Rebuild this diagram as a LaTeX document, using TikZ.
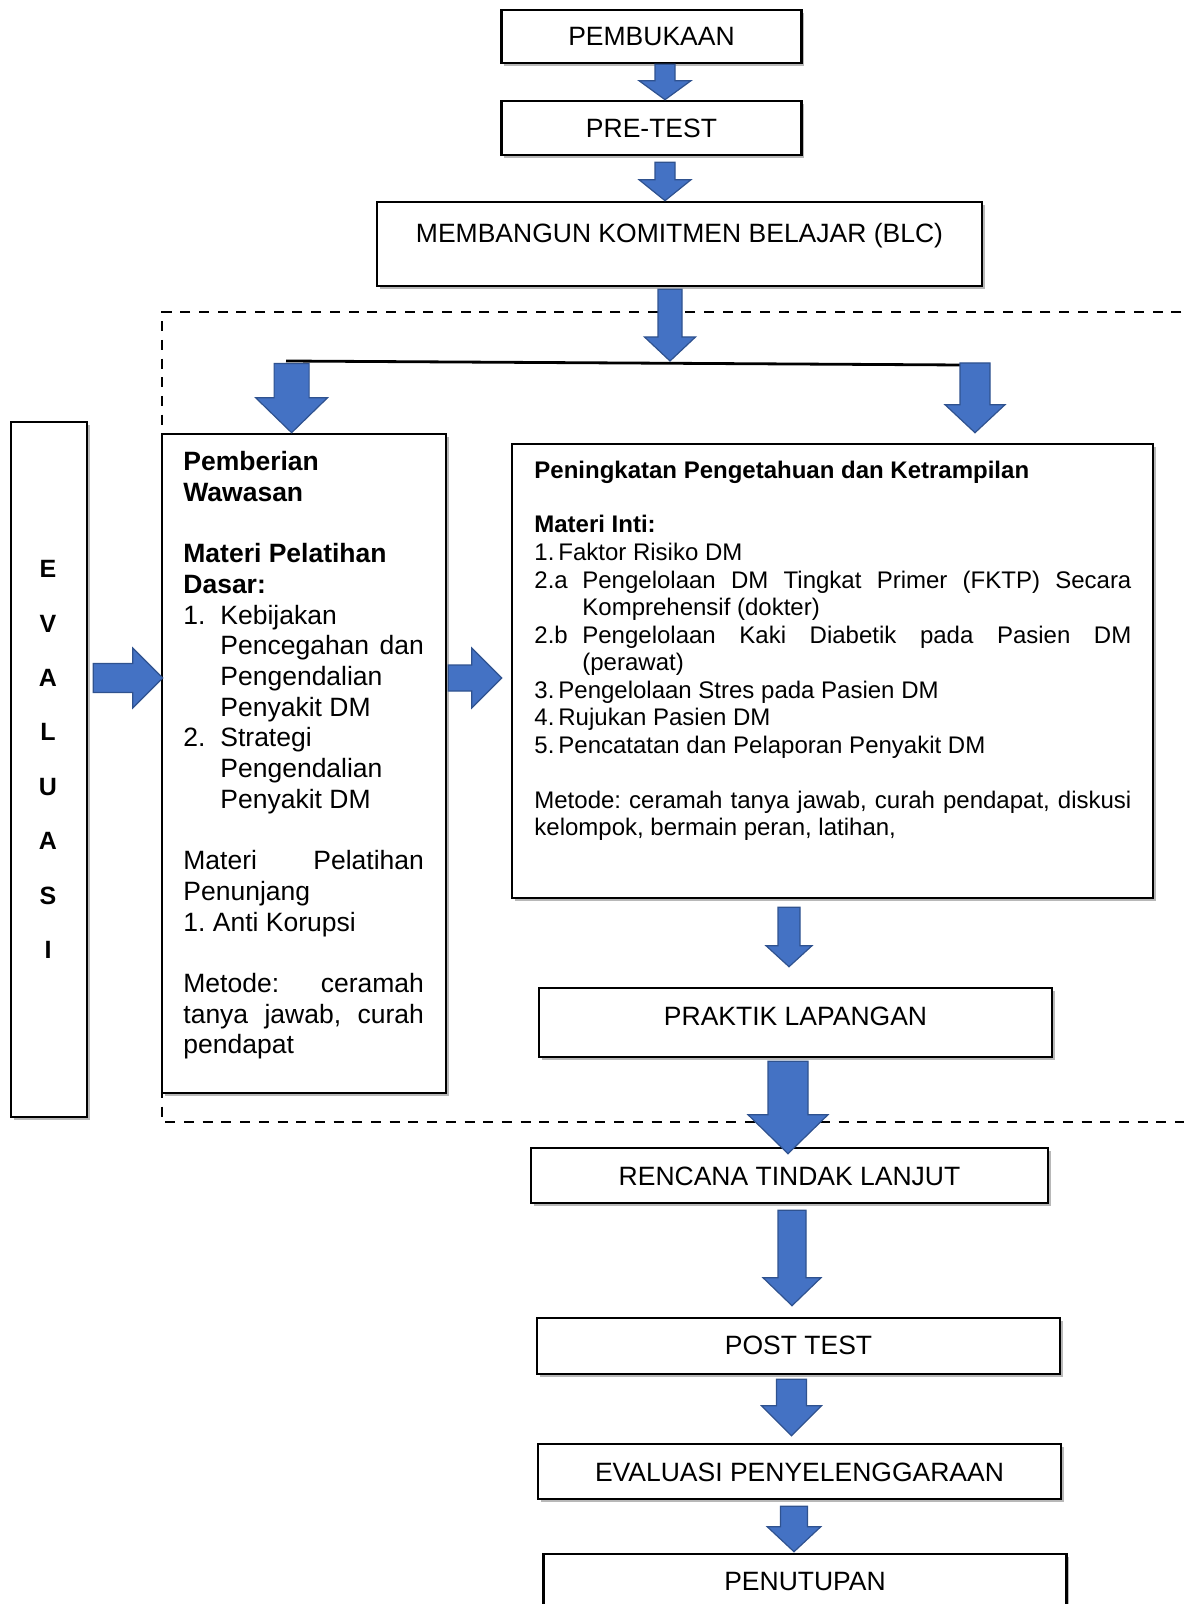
\documentclass[tikz,border=0pt]{standalone}
\usepackage{fontspec}
\setmainfont{Liberation Sans}
\usetikzlibrary{calc,shadows}
\definecolor{arrowblue}{HTML}{4472C4}
\definecolor{arrowedge}{HTML}{2F528F}
\frenchspacing
% block arrow: #1 start, #2 tip, #3 half shaft, #4 half head, #5 head length
\newcommand{\blockarrow}[5]{%
  \coordinate (ba) at ($(#2)!#5!(#1)$);
  \filldraw[blockarrow] ($(#1)!#3!90:(#2)$) -- ($(ba)!#3!90:(#2)$) -- ($(ba)!#4!90:(#2)$) -- (#2)
    -- ($(ba)!#4!-90:(#2)$) -- ($(ba)!#3!-90:(#2)$) -- ($(#1)!#3!-90:(#2)$) -- cycle;}
\tikzset{
  box/.style={draw, line width=1.3pt, fill=white, inner sep=0pt,
    drop shadow={shadow xshift=1.3pt, shadow yshift=-1.6pt, opacity=0.28, fill=black},
    font=\fontsize{13.25pt}{15.35pt}\selectfont, text height=9.5pt, text depth=0pt},
  blockarrow/.style={fill=arrowblue, draw=arrowedge, line width=0.6pt},
  splitline/.style={line width=1.4pt},
  dashframe/.style={line width=1.4pt, dash pattern=on 5pt off 4.35pt},
  bodytext/.style={anchor=base west, inner sep=0pt},
}
\begin{document}
\begin{tikzpicture}[x=0.5pt, y=-0.5pt]
\useasboundingbox (0,0) rectangle (1183,1604);
\draw[dashframe] (1200,312) -- (162,312) -- (162,1122) -- (1200,1122);

\node[box, minimum width=150pt, minimum height=26.5pt] (open) at (651.5,36.5) {PEMBUKAAN};
\node[box, minimum width=150pt, minimum height=27pt] (pretest) at (651.5,128) {PRE-TEST};
\node[box, minimum width=302.5pt, minimum height=42pt, text depth=11pt] (blc) at (679.5,244) {MEMBANGUN KOMITMEN BELAJAR (BLC)};
\node[box, minimum width=38pt, minimum height=347.5pt] (evalbox) at (49,769.5) {};
\node[box, minimum width=142pt, minimum height=329.5pt] (wawasan) at (304,763.5) {};
\node[box, minimum width=320.5pt, minimum height=227pt] (pkt) at (832.5,671) {};
\node[box, minimum width=256.5pt, minimum height=34.5pt, text depth=6.5pt] (praktik) at (795.5,1022.5) {PRAKTIK LAPANGAN};
\node[box, minimum width=258.5pt, minimum height=27.5pt] (rtl) at (789.5,1175.5) {RENCANA TINDAK LANJUT};
\node[box, minimum width=261.5pt, minimum height=28pt, text depth=1.5pt] (post) at (798.5,1346) {POST TEST};
\node[box, minimum width=261.5pt, minimum height=27.5pt] (evalp) at (799.5,1471.5) {EVALUASI PENYELENGGARAAN};
\node[box, minimum width=261.5pt, minimum height=27pt] (tutup) at (805,1581) {PENUTUPAN};

\node[inner sep=0pt, align=center, font=\fontsize{12.5pt}{27.2pt}\selectfont\bfseries] (evaltext) at (48,759.4)
  {E\\V\\A\\L\\U\\A\\S\\I};

\node[bodytext] (wawtext) at (183,470.5) {\begin{minipage}[t]{120.25pt}
\fontsize{13.25pt}{15.35pt}\selectfont\hyphenpenalty=10000 \tolerance=10000 \hbadness=10000
\textbf{Pemberian\\ Wawasan}\par
\vspace{\baselineskip}
\textbf{Materi Pelatihan\\ Dasar:}\par
\hangindent=18.5pt \hangafter=1 \makebox[18.5pt][l]{1.}Kebijakan\\ Pencegahan dan\linebreak Pengendalian\\ Penyakit DM\par
\hangindent=18.5pt \hangafter=1 \makebox[18.5pt][l]{2.}Strategi\\ Pengendalian\\ Penyakit DM\par
\vspace{\baselineskip}
Materi Pelatihan\linebreak Penunjang\\ 1. Anti Korupsi\par
\vspace{\baselineskip}
Metode: ceramah\linebreak tanya jawab, curah\linebreak pendapat
\end{minipage}};

\node[bodytext] (pkttext) at (534,478) {\begin{minipage}[t]{298.5pt}
\fontsize{12pt}{13.75pt}\selectfont\hyphenpenalty=10000 \tolerance=10000 \hbadness=10000
\textbf{Peningkatan Pengetahuan dan Ketrampilan}\par
\vspace{\baselineskip}
\textbf{Materi Inti:}\par
\makebox[12pt][l]{1.}Faktor Risiko DM\par
\hangindent=24pt \hangafter=1 \makebox[24pt][l]{2.a}Pengelolaan DM Tingkat Primer (FKTP) Secara\linebreak Komprehensif (dokter)\par
\hangindent=24pt \hangafter=1 \makebox[24pt][l]{2.b}Pengelolaan Kaki Diabetik pada Pasien DM\linebreak (perawat)\par
\makebox[12pt][l]{3.}Pengelolaan Stres pada Pasien DM\par
\makebox[12pt][l]{4.}Rujukan Pasien DM\par
\makebox[12pt][l]{5.}Pencatatan dan Pelaporan Penyakit DM\par
\vspace{\baselineskip}
Metode: ceramah tanya jawab, curah pendapat, diskusi\linebreak kelompok, bermain peran, latihan,
\end{minipage}};

% split line and arrow ends
\coordinate (spl) at (286,361);
\coordinate (spr) at (962,365);
\coordinate (mid) at (0,678);
\draw[splitline] (spl) -- (spr);

\coordinate (a1s) at ($(open.south)+(13.5,0)$);
\coordinate (a1e) at (a1s |- pretest.north);
\coordinate (a2s) at ($(pretest.south)+(13.5,6)$);
\coordinate (a2e) at (a2s |- blc.north);
\coordinate (a3s) at ($(blc.south)+(-9.5,2)$);
\coordinate (a3e) at (a3s |- spl);
\coordinate (a4s) at (291.6,363.5);
\coordinate (a4e) at (a4s |- wawasan.north);
\coordinate (a5s) at ($(spr)+(13,-2)$);
\coordinate (a5e) at ($(a5s |- pkt.north)+(0,-10)$);
\coordinate (a6s) at ($(evalbox.east |- mid)+(5,0)$);
\coordinate (a6e) at ($(wawasan.west |- mid)+(2,0)$);
\coordinate (a7s) at ($(wawasan.east |- mid)+(1,0)$);
\coordinate (a7e) at ($(pkt.west |- mid)+(-9,0)$);
\coordinate (a8s) at ($(pkt.south)+(-43.5,8)$);
\coordinate (a8e) at ($(a8s |- praktik.north)+(0,-20)$);
\coordinate (a9s) at ($(praktik.south)+(-7.5,3)$);
\coordinate (a9e) at ($(a9s |- rtl.north)+(0,7)$);
\coordinate (a10s) at ($(rtl.south)+(2.5,6)$);
\coordinate (a10e) at ($(a10s |- post.north)+(0,-11)$);
\coordinate (a11s) at ($(post.south)+(-7,4)$);
\coordinate (a11e) at ($(a11s |- evalp.north)+(0,-7)$);
\coordinate (a12s) at ($(evalp.south)+(-5.5,6)$);
\coordinate (a12e) at ($(a12s |- tutup.north)+(0,-1)$);

\blockarrow{a1s}{a1e}{5pt}{13pt}{9.5pt}
\blockarrow{a2s}{a2e}{5pt}{13pt}{10.5pt}
\blockarrow{a3s}{a3e}{6pt}{12.75pt}{12pt}
\blockarrow{a4s}{a4e}{8.75pt}{18pt}{17.5pt}
\blockarrow{a5s}{a5e}{7.5pt}{15pt}{14pt}
\blockarrow{a6s}{a6e}{7.25pt}{15pt}{15pt}
\blockarrow{a7s}{a7e}{6.5pt}{15pt}{15pt}
\blockarrow{a8s}{a8e}{5.5pt}{11.5pt}{10.5pt}
\blockarrow{a9s}{a9e}{10pt}{20pt}{19.5pt}
\blockarrow{a10s}{a10e}{7pt}{14.5pt}{14pt}
\blockarrow{a11s}{a11e}{7.5pt}{15pt}{15pt}
\blockarrow{a12s}{a12e}{6.75pt}{13.4pt}{12.5pt}
\end{tikzpicture}
\end{document}
